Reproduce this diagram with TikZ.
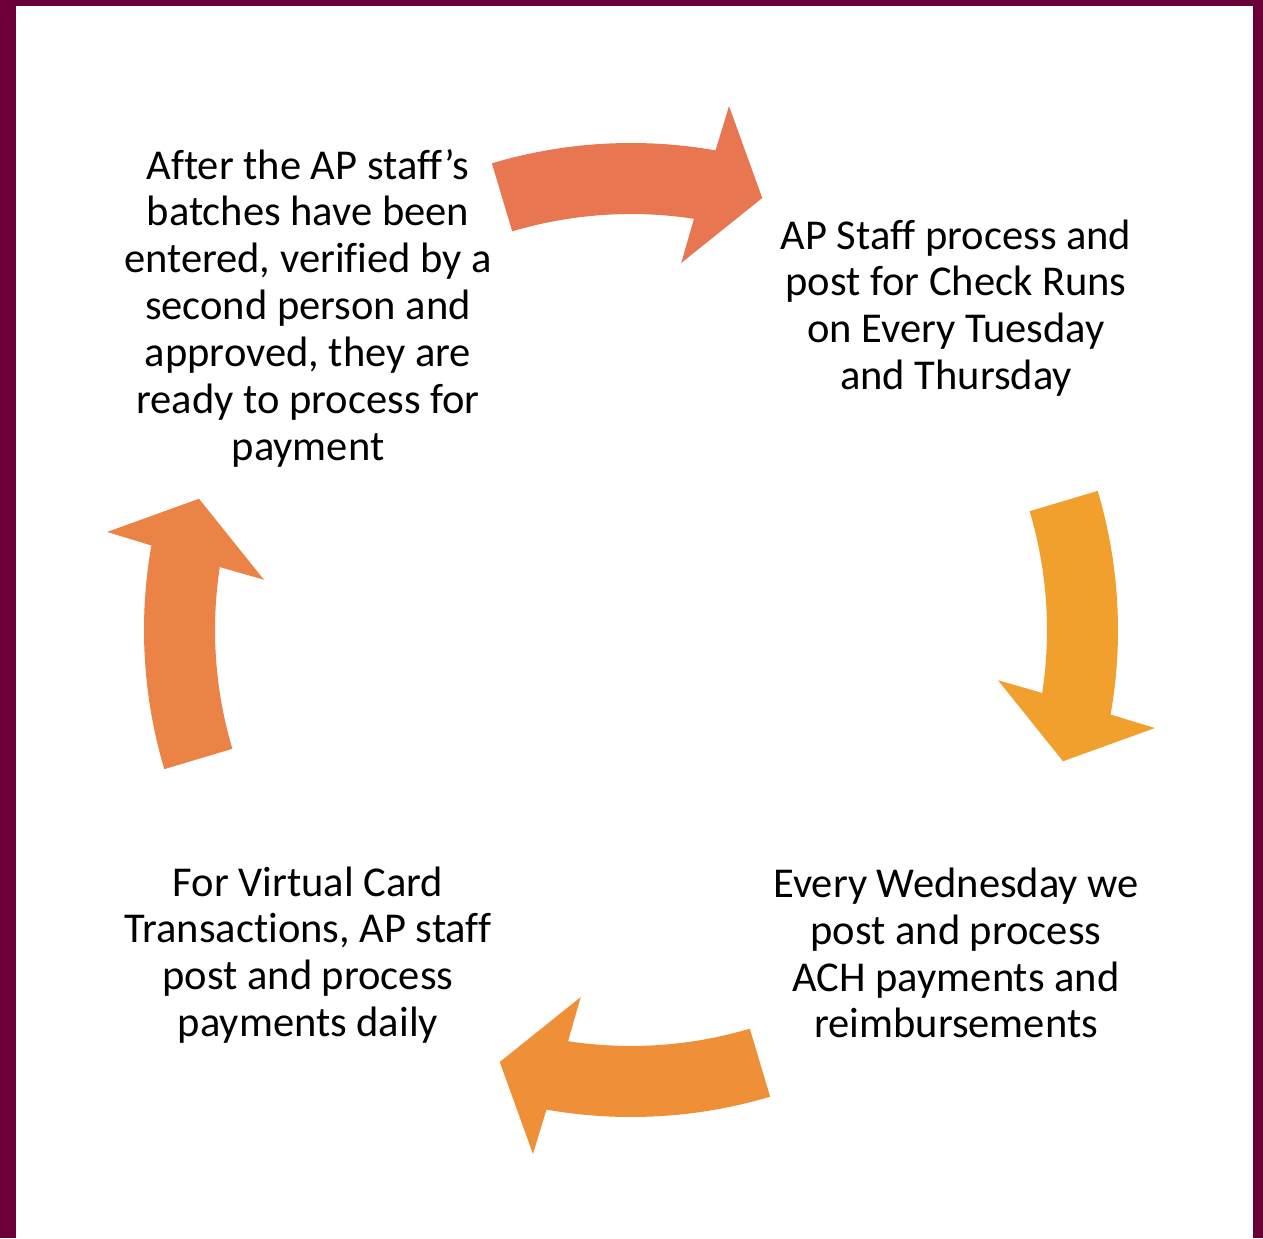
\documentclass[tikz,border=0pt]{standalone}
\usepackage{fontspec}
\setmainfont{Carlito}[Ligatures=CommonOff]

\definecolor{frame}{HTML}{6B0038}
\definecolor{arrA}{HTML}{E87651}
\definecolor{arrB}{HTML}{F2A02D}
\definecolor{arrC}{HTML}{EF8F38}
\definecolor{arrD}{HTML}{EB8246}

\begin{document}
\begin{tikzpicture}
    [x=0.02cm, y=0.02cm,
     every node/.style={align=center, inner sep=0pt,
       font=\fontsize{24.2}{26.65}\selectfont}]
  \useasboundingbox (-631,-608) rectangle (632,630);
  \fill[white] (-631,-608) rectangle (632,630);

  % maroon frame, open at the bottom
  \fill[frame] (-631,-608) rectangle (-615,630);
  \fill[frame] (-631,624) rectangle (632,630);
  \fill[frame] (622,-608) rectangle (632,630);

  % four curved block arrows round the centre
  \foreach \r/\c in {0/arrA, -90/arrB, -180/arrC, -270/arrD} {
    \fill[\c] ({106.6+\r}:487)
      arc[start angle={106.6+\r}, end angle={80+\r}, radius=9.74cm]
      -- ({79.4+\r}:533) -- ({73.1+\r}:451.5) -- ({82.2+\r}:370.5)
      -- ({81.3+\r}:416)
      arc[start angle={81.3+\r}, end angle={106.6+\r}, radius=8.32cm]
      -- cycle;
  }

  \node (A) at (-323,322) {After the AP staff’s\\batches have been\\entered, verified by a\\second person and\\approved, they are\\ready to process for\\payment};
  \node (B) at (325,322) {AP Staff process and\\post for Check Runs\\on Every Tuesday\\and Thursday};
  \node (C) at (325,-323) {Every Wednesday we\\post and process\\ACH payments and\\reimbursements};
  \node (D) at (-323,-325) {For Virtual Card\\Transactions, AP staff\\post and process\\payments daily};
\end{tikzpicture}
\end{document}
